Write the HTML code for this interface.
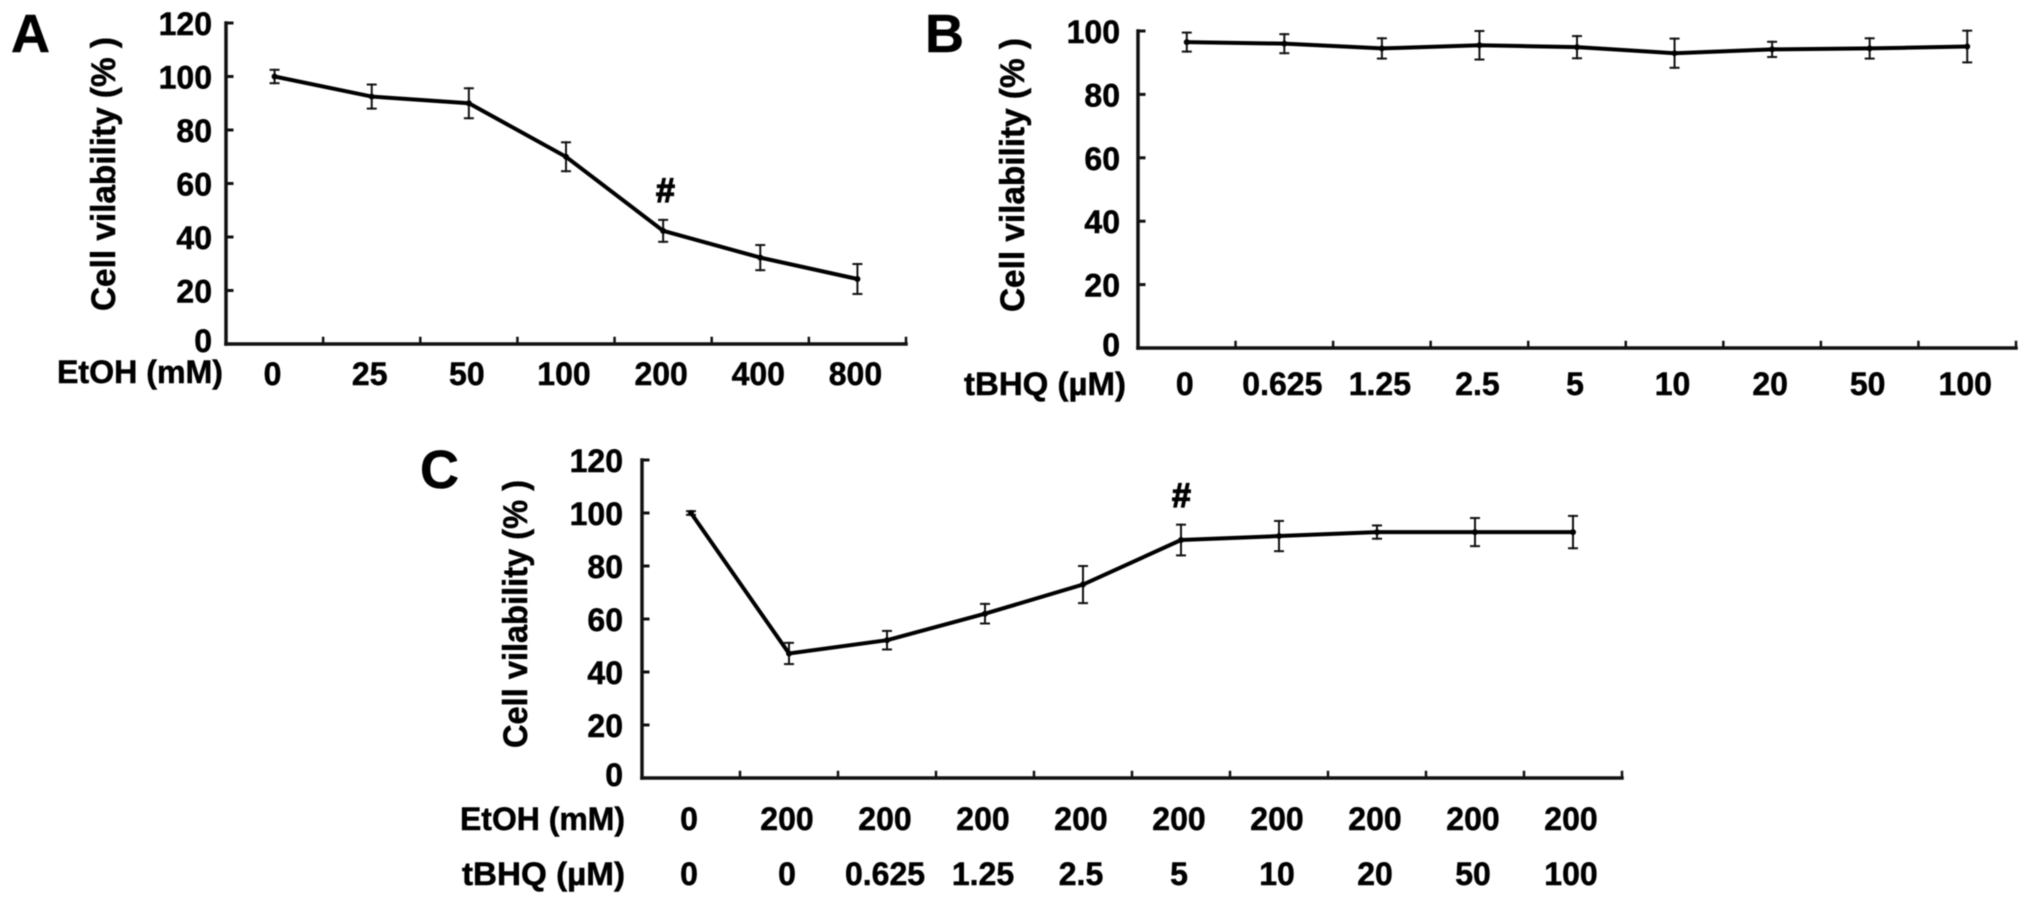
<!DOCTYPE html>
<html lang="en">
<head>
<meta charset="utf-8">
<title>Cell viability charts</title>
<style>
html,body{margin:0;padding:0;background:#fff;width:2031px;height:907px;overflow:hidden}
svg{display:block;position:absolute;left:0;top:0;filter:blur(0.5px)}
text{font-family:"Liberation Sans",Arial,sans-serif;font-weight:700;fill:#000;stroke:#000;stroke-width:0.5px}
</style>
</head>
<body>
<svg id="figure" xmlns="http://www.w3.org/2000/svg" width="2031" height="907" viewBox="0 0 2031 907">
  <rect x="0" y="0" width="2031" height="907" fill="#fff"/>
  <text x="11" y="52" font-size="54">A</text>
  <text x="925" y="52" font-size="54">B</text>
  <text x="420" y="488" font-size="54">C</text>
  <text transform="translate(115,311) rotate(-90)" font-size="34" textLength="274" lengthAdjust="spacingAndGlyphs">Cell vilability (%&#160;)</text>
  <text transform="translate(1024,312) rotate(-90)" font-size="34" textLength="274" lengthAdjust="spacingAndGlyphs">Cell vilability (%&#160;)</text>
  <text transform="translate(527,748) rotate(-90)" font-size="34" textLength="268" lengthAdjust="spacingAndGlyphs">Cell vilability (%&#160;)</text>
  <text x="57" y="383" font-size="32" textLength="166" lengthAdjust="spacingAndGlyphs">EtOH (mM)</text>
  <text x="964" y="395" font-size="32" textLength="162" lengthAdjust="spacingAndGlyphs">tBHQ (µM)</text>
  <text x="460" y="830" font-size="32" textLength="165" lengthAdjust="spacingAndGlyphs">EtOH (mM)</text>
  <text x="462" y="885" font-size="32" textLength="163" lengthAdjust="spacingAndGlyphs">tBHQ (µM)</text>
  <text x="656" y="202" font-size="34" style="stroke-width:1.2px">#</text>
  <text x="1172" y="507" font-size="34" style="stroke-width:1.2px">#</text>
</svg>
<script>
// Panel A data
const aEtoh = ['0', '25', '50', '100', '200', '400', '800'];
const aValues = [100, 92.5, 90, 70, 42.3, 32.3, 24.3];
const aErrors = [2.5, 4.5, 5.6, 5.4, 4.1, 4.7, 5.6];
const aTicks = [0, 20, 40, 60, 80, 100, 120];

// Panel B data
const bTbhq = ['0', '0.625', '1.25', '2.5', '5', '10', '20', '50', '100'];
const bValues = [96.5, 96, 94.5, 95.5, 94.9, 93, 94.2, 94.5, 95.1];
const bErrors = [3, 3, 3.2, 4.5, 3.5, 4.6, 2.4, 3.2, 5];
const bTicks = [0, 20, 40, 60, 80, 100];

// Panel C data
const cEtoh = ['0', '200', '200', '200', '200', '200', '200', '200', '200', '200'];
const cTbhq = ['0', '0', '0.625', '1.25', '2.5', '5', '10', '20', '50', '100'];
const cValues = [100, 47, 52, 62, 73, 89.8, 91.3, 92.8, 92.8, 92.8];
const cErrors = [0.7, 4, 3.5, 3.7, 7, 5.8, 5.7, 2.5, 5.3, 6.1];
const cTicks = [0, 20, 40, 60, 80, 100, 120];

const svg = document.getElementById('figure');
const NS = 'http://www.w3.org/2000/svg';

function line(x1, y1, x2, y2, w) {
  const el = document.createElementNS(NS, 'line');
  el.setAttribute('x1', x1);
  el.setAttribute('y1', y1);
  el.setAttribute('x2', x2);
  el.setAttribute('y2', y2);
  el.setAttribute('stroke', '#111');
  el.setAttribute('stroke-width', w);
  el.setAttribute('stroke-linecap', 'square');
  svg.appendChild(el);
  return el;
}

function label(txt, x, y, anchor) {
  const el = document.createElementNS(NS, 'text');
  el.setAttribute('x', x);
  el.setAttribute('y', y);
  el.setAttribute('font-size', '32');
  el.setAttribute('text-anchor', anchor);
  el.textContent = txt;
  svg.appendChild(el);
  return el;
}

function drawPanel(p) {
  const n = p.values.length;
  const band = (p.right - p.left) / n;
  const xScale = i => p.left + band * (i + 0.5);
  const yMax = p.ticks[p.ticks.length - 1];
  const yScale = v => p.bottom - (v / yMax) * (p.bottom - p.top);

  const yAxis = line(p.left, p.top, p.left, p.bottom, 3.5);
  
  

  const xAxis = line(p.left, p.bottom, p.right, p.bottom, 3.5);
  
  

  p.ticks.forEach(t => {
    if (t > 0) {
      const tk = line(p.left, yScale(t), p.left + 6, yScale(t), 3);
      
      
    }
    const tl = label(String(t), p.labelRight, yScale(t) + (t === 0 ? 8 : 12), 'end');
    
    
  });

  for (let i = 1; i <= n; i++) {
    const tx = p.left + band * i;
    const tk = line(tx, p.bottom, tx, p.bottom - 6, 2.5);
    
    
  }

  p.rows.forEach(r => {
    r.labels.forEach((s, i) => {
      const tl = label(s, xScale(i) - 2, r.y, 'middle');
      
      
    });
  });

  const pts = p.values.map((v, i) => xScale(i) + ',' + yScale(v)).join(' ');
  const path = document.createElementNS(NS, 'polyline');
  path.setAttribute('points', pts);
  path.setAttribute('fill', 'none');
  path.setAttribute('stroke', '#000');
  path.setAttribute('stroke-width', '4');
  
  
  svg.appendChild(path);

  p.values.forEach((v, i) => {
    const e = p.errors[i];
    const x = xScale(i);
    const hi = yScale(v + e);
    const lo = yScale(v - e);
    const bar = line(x, hi, x, lo, 2);
    
    
    const capHi = line(x - 4, hi, x + 4, hi, 2);
    
    
    const capLo = line(x - 4, lo, x + 4, lo, 2);
    
    
    const dot = document.createElementNS(NS, 'circle');
    dot.setAttribute('cx', x);
    dot.setAttribute('cy', yScale(v));
    dot.setAttribute('r', '3');
    dot.setAttribute('fill', '#000');
    
    
    svg.appendChild(dot);
  });
}

drawPanel({id: 'a', left: 226, right: 906, top: 23, bottom: 344, labelRight: 212,
  ticks: aTicks, values: aValues, errors: aErrors, rows: [{labels: aEtoh, y: 385}]});
drawPanel({id: 'b', left: 1138, right: 2016, top: 31, bottom: 348, labelRight: 1120,
  ticks: bTicks, values: bValues, errors: bErrors, rows: [{labels: bTbhq, y: 395}]});
drawPanel({id: 'c', left: 642, right: 1622, top: 460, bottom: 778, labelRight: 623,
  ticks: cTicks, values: cValues, errors: cErrors, rows: [{labels: cEtoh, y: 830}, {labels: cTbhq, y: 885}]});
</script>
</body>
</html>
